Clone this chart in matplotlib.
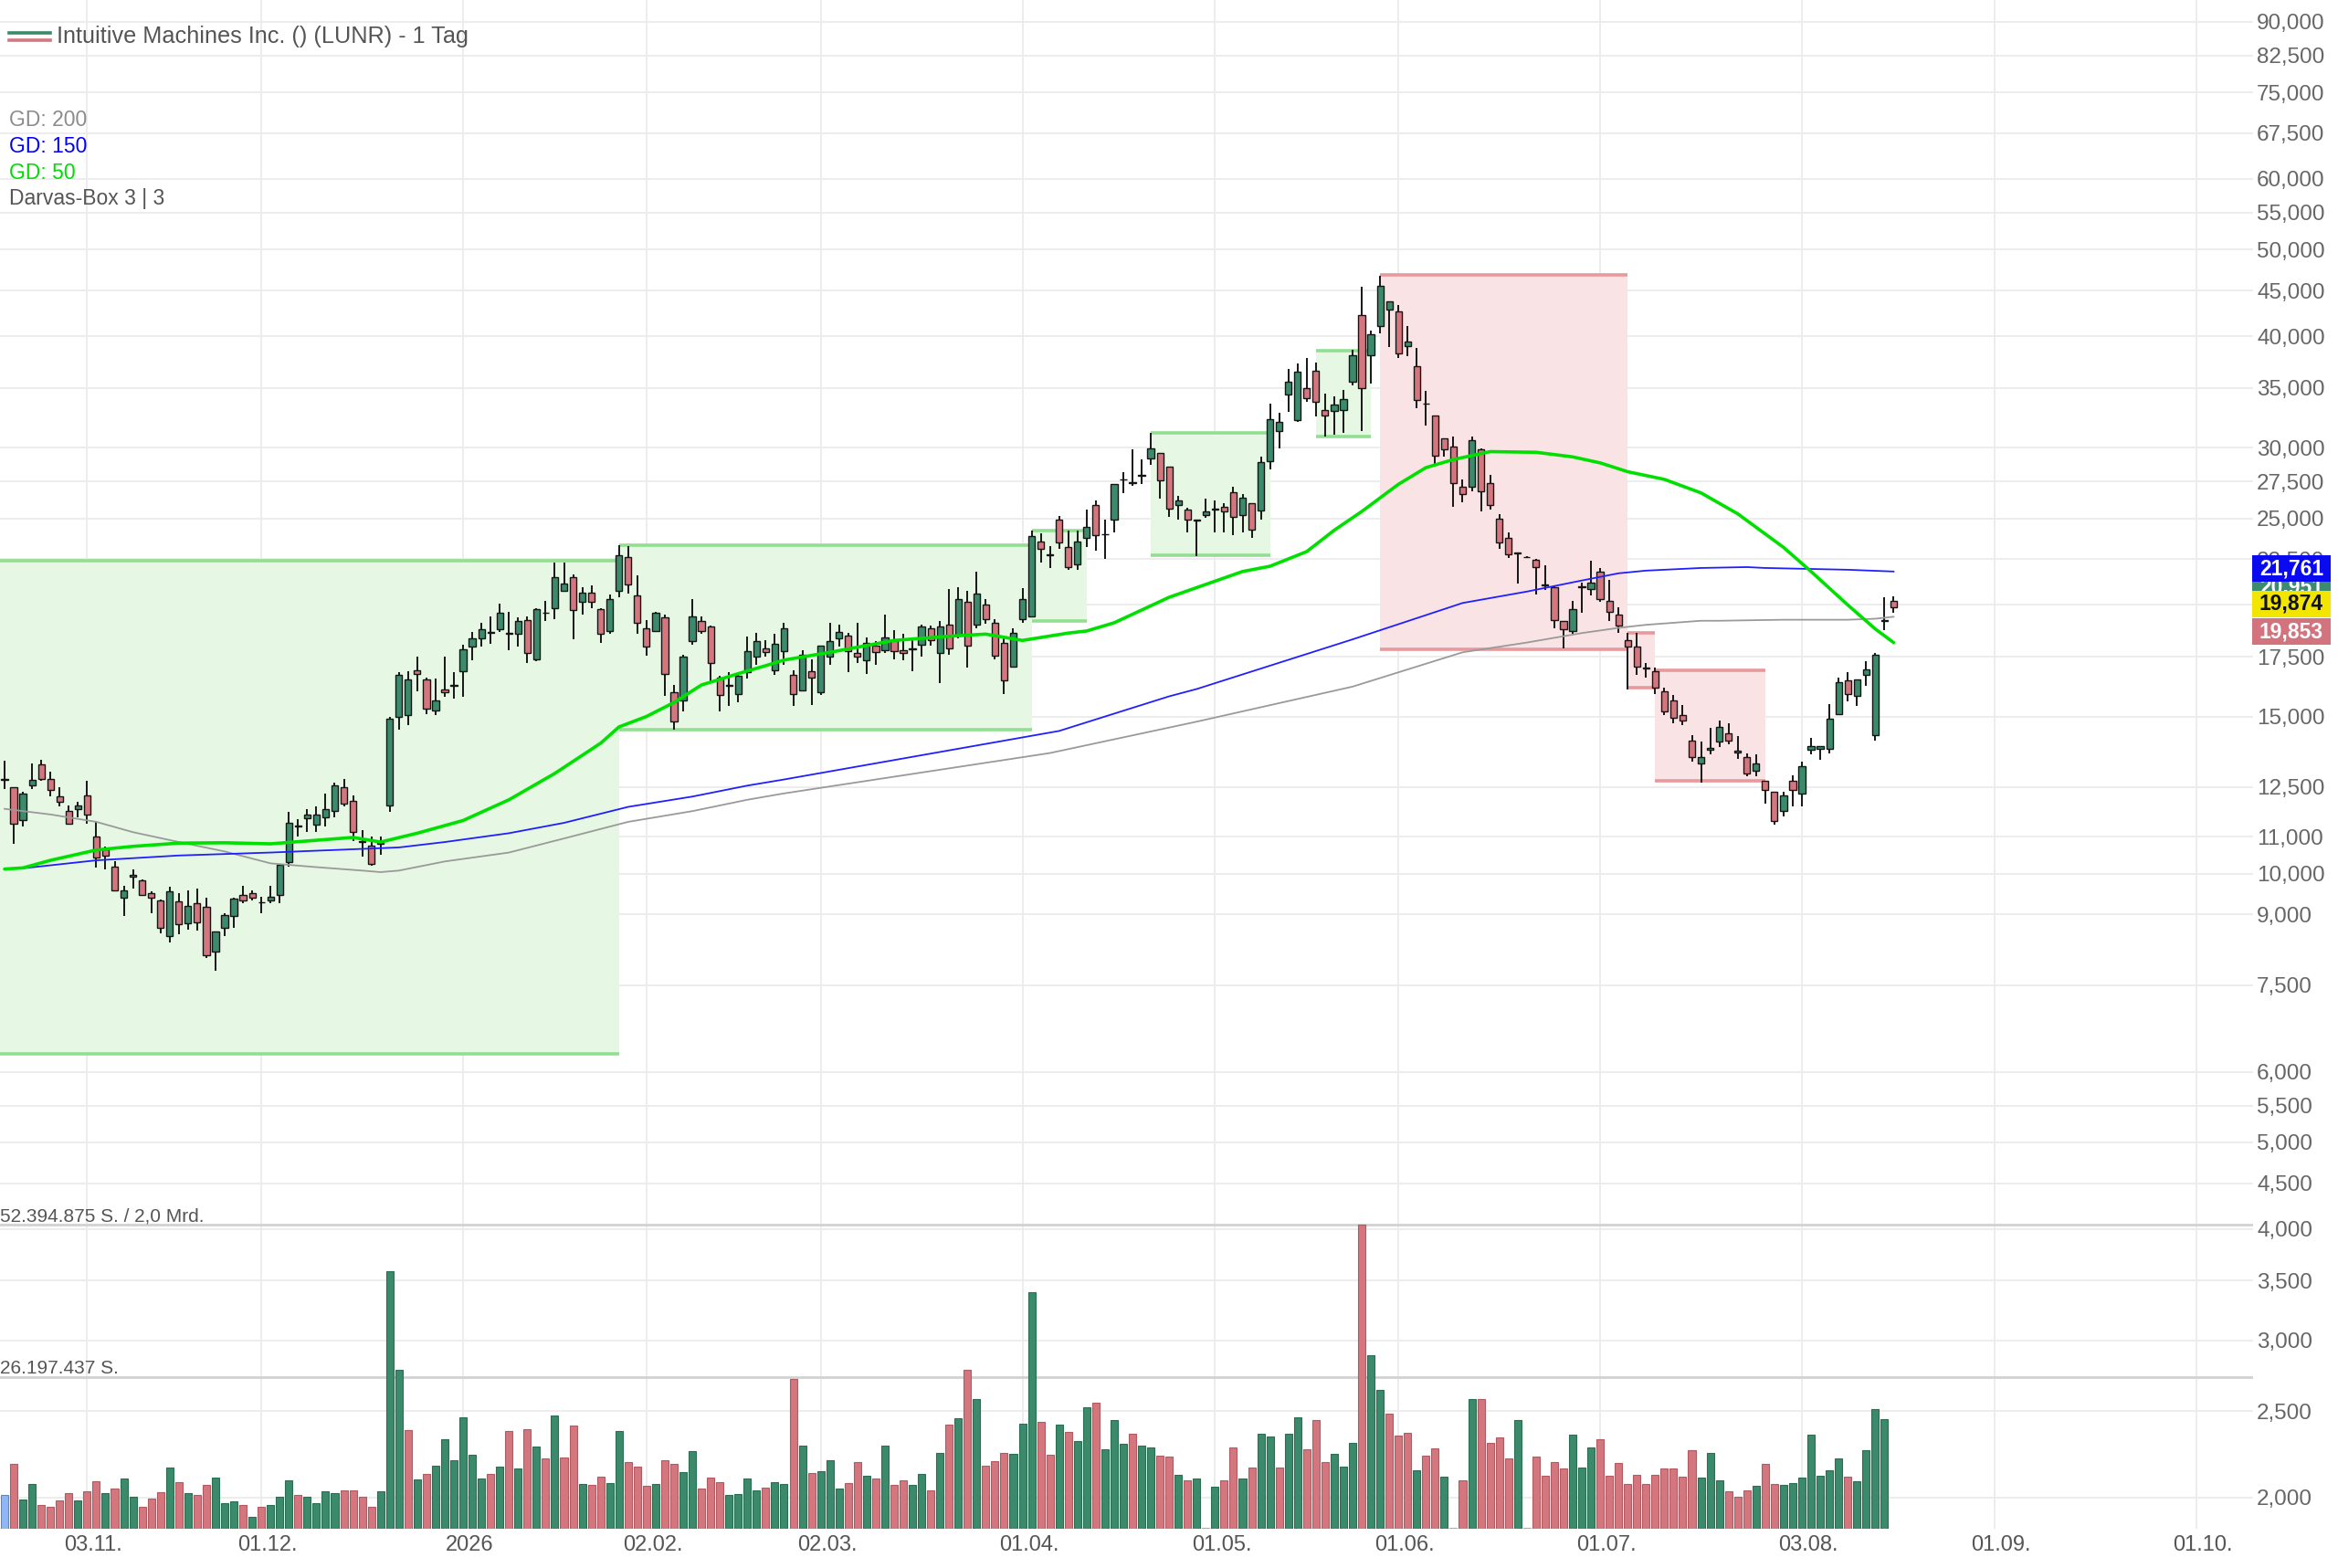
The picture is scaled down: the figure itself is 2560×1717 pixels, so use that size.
import numpy as np
import pandas as pd
import matplotlib
matplotlib.use("Agg")
import matplotlib.pyplot as plt
from matplotlib.patches import Rectangle
from matplotlib.lines import Line2D
from matplotlib.ticker import FixedLocator, FuncFormatter, NullLocator
import matplotlib.transforms as mtransforms

plt.rcParams['font.family'] = ['Liberation Sans', 'DejaVu Sans']

# ---------------- data ----------------
start_date = "2025-10-21"
holidays = ["2025-11-27", "2025-12-25", "2026-01-01", "2026-01-19",
            "2026-02-16", "2026-04-03", "2026-05-25", "2026-07-03"]

open_ = [12.75, 12.5, 11.48, 12.55, 13.27, 12.77, 12.2, 11.75, 11.82, 12.25,
         11.0, 10.65, 10.18, 9.4, 9.93, 9.82, 9.5, 9.34, 8.52, 9.3,
         8.8, 9.26, 9.17, 8.17, 8.7, 8.97, 9.47, 9.5, 9.28, 9.33,
         9.47, 10.3, 11.3, 11.55, 11.35, 11.57, 11.75, 12.5, 12.07, 10.85,
         10.76, 10.8, 11.93, 15.0, 15.05, 16.9, 16.5, 15.25, 16.1, 16.25,
         16.85, 17.95, 18.35, 18.63, 18.8, 18.58, 18.55, 19.25, 17.4, 19.58,
         19.85, 20.75, 21.5, 20.15, 20.65, 19.8, 18.7, 20.75, 22.65, 20.5,
         18.85, 18.7, 19.35, 15.95, 15.65, 18.2, 19.2, 18.9, 16.6, 16.25,
         15.9, 16.8, 17.5, 17.9, 16.9, 17.75, 16.7, 16.05, 16.85, 15.95,
         17.5, 18.35, 18.5, 17.65, 17.35, 18.0, 17.8, 18.25, 17.8, 17.83,
         18.05, 18.85, 17.65, 19.0, 18.5, 20.15, 19.0, 20.0, 19.1, 18.15,
         17.05, 19.3, 19.4, 23.55, 22.73, 24.9, 23.2, 22.2, 23.75, 25.9,
         23.98, 24.9, 27.63, 27.38, 27.93, 29.2, 29.6, 28.6, 25.9, 25.6,
         24.88, 25.2, 25.58, 25.75, 26.75, 25.2, 26.0, 25.5, 29.0, 31.3,
         34.4, 32.2, 35.0, 36.6, 33.05, 33.0, 33.05, 35.55, 42.2, 38.1,
         41.1, 42.8, 42.6, 38.95, 37.0, 33.58, 32.6, 30.7, 30.1, 27.1,
         27.1, 29.9, 27.4, 25.0, 23.75, 22.83, 22.65, 22.45, 21.03, 20.95,
         19.2, 18.7, 20.93, 20.85, 21.8, 20.2, 19.5, 18.25, 17.95, 16.98,
         16.85, 16.0, 15.65, 15.05, 14.1, 13.3, 13.78, 14.05, 14.35, 13.68,
         13.5, 13.05, 12.7, 12.35, 11.75, 12.7, 12.3, 13.75, 13.8, 13.8,
         15.1, 16.45, 15.8, 16.7, 14.3, 19.18, 20.2]

high = [13.38, 12.5, 12.35, 13.3, 13.4, 13.0, 12.5, 11.93, 12.05, 12.72,
        11.43, 10.72, 10.33, 9.7, 10.12, 9.85, 9.55, 9.36, 9.67, 9.5,
        9.58, 9.62, 9.4, 8.62, 9.04, 9.4, 9.68, 9.58, 9.42, 9.7,
        10.22, 11.72, 11.52, 11.8, 11.9, 12.3, 12.65, 12.77, 12.25, 11.18,
        11.0, 11.0, 15.0, 16.8, 16.85, 17.5, 16.6, 16.55, 17.5, 16.8,
        18.05, 18.65, 19.1, 19.4, 20.05, 19.65, 19.35, 19.4, 19.85, 20.2,
        22.3, 22.3, 21.65, 20.95, 21.05, 19.85, 20.55, 23.35, 23.25, 21.6,
        19.25, 19.65, 19.5, 16.27, 17.6, 20.3, 19.4, 18.95, 16.65, 16.8,
        16.7, 18.45, 18.6, 18.25, 18.55, 19.1, 16.9, 17.8, 17.4, 18.0,
        19.1, 19.0, 18.6, 19.1, 18.4, 18.2, 19.5, 18.75, 18.55, 18.3,
        19.0, 18.95, 19.2, 20.85, 20.95, 20.75, 21.8, 20.3, 19.3, 18.35,
        18.85, 20.9, 24.2, 24.05, 23.3, 25.15, 24.2, 24.2, 25.6, 26.2,
        24.9, 27.3, 28.2, 29.9, 29.1, 31.2, 29.6, 28.6, 26.5, 25.7,
        24.92, 26.3, 26.2, 26.0, 27.1, 26.6, 26.0, 29.3, 33.6, 32.8,
        36.8, 37.25, 37.8, 37.35, 34.5, 34.25, 34.85, 38.6, 45.4, 40.6,
        46.7, 43.75, 43.3, 41.1, 38.8, 34.7, 32.6, 30.7, 30.85, 27.65,
        30.85, 29.95, 27.95, 25.3, 24.1, 22.9, 22.7, 22.5, 22.15, 21.05,
        19.2, 20.2, 21.2, 22.4, 22.0, 21.35, 19.9, 18.6, 18.6, 17.2,
        17.0, 16.15, 15.85, 15.45, 14.3, 14.05, 14.55, 14.85, 14.75, 14.25,
        13.65, 13.6, 12.7, 12.35, 12.35, 12.9, 13.35, 14.2, 13.9, 15.5,
        16.6, 16.8, 16.5, 17.3, 17.65, 20.4, 20.45]

low = [12.45, 10.8, 11.3, 12.45, 12.7, 12.2, 11.9, 11.34, 11.57, 11.38,
       10.17, 10.1, 9.55, 8.97, 9.62, 9.45, 9.04, 8.58, 8.38, 8.55,
       8.66, 8.64, 8.04, 7.79, 8.52, 8.7, 9.26, 9.33, 9.04, 9.27,
       9.27, 10.18, 11.0, 11.13, 11.13, 11.3, 11.57, 11.9, 10.88, 10.45,
       10.2, 10.5, 11.72, 14.5, 14.67, 16.0, 15.1, 15.05, 15.77, 15.7,
       15.77, 17.35, 17.95, 18.1, 18.65, 17.8, 17.95, 17.2, 17.3, 19.2,
       19.3, 20.7, 18.3, 19.5, 19.85, 18.15, 18.55, 20.4, 20.6, 18.55,
       17.55, 18.7, 15.8, 14.5, 15.2, 18.05, 18.55, 16.4, 15.2, 15.4,
       15.55, 16.55, 17.15, 17.5, 16.7, 17.15, 15.4, 16.0, 15.45, 15.85,
       17.15, 17.95, 16.8, 17.2, 16.75, 17.15, 17.65, 17.4, 17.35, 16.85,
       17.5, 18.0, 16.35, 17.6, 18.35, 17.0, 18.85, 19.05, 17.4, 15.9,
       17.0, 19.1, 19.35, 22.3, 22.0, 23.1, 21.9, 21.9, 23.2, 23.0,
       22.5, 24.1, 26.7, 27.2, 27.3, 28.7, 26.3, 25.1, 24.9, 24.1,
       22.7, 25.05, 24.1, 24.1, 23.95, 24.1, 23.75, 24.9, 28.4, 29.95,
       32.9, 32.1, 33.75, 32.55, 30.85, 31.0, 31.2, 35.25, 31.3, 35.4,
       40.25, 38.9, 37.8, 37.95, 33.2, 31.8, 28.8, 29.3, 25.75, 26.05,
       26.8, 25.45, 25.55, 23.1, 22.6, 21.15, 22.6, 20.55, 20.8, 18.85,
       17.9, 18.55, 19.6, 20.5, 20.15, 19.2, 18.6, 16.1, 16.7, 16.6,
       15.9, 15.05, 14.75, 14.67, 13.35, 12.65, 13.6, 13.85, 13.95, 13.45,
       12.85, 12.85, 11.98, 11.35, 11.6, 11.9, 11.9, 13.6, 13.4, 13.65,
       15.05, 15.6, 15.4, 16.25, 14.1, 18.75, 19.6]

close = [12.78, 11.38, 12.3, 12.75, 12.77, 12.4, 12.05, 11.38, 11.93, 11.65,
         10.43, 10.47, 9.58, 9.58, 9.97, 9.47, 9.4, 8.7, 9.55, 8.77,
         9.2, 8.81, 8.11, 8.62, 8.98, 9.38, 9.34, 9.41, 9.29, 9.42,
         10.22, 11.4, 11.32, 11.65, 11.65, 11.8, 12.57, 11.98, 11.13, 10.87,
         10.25, 10.82, 14.9, 16.7, 16.5, 16.75, 15.3, 15.65, 15.95, 16.28,
         17.85, 18.35, 18.8, 18.67, 19.6, 18.62, 19.2, 17.65, 19.8, 19.62,
         21.5, 21.15, 19.75, 20.65, 20.15, 18.55, 20.3, 22.75, 21.1, 19.1,
         17.95, 19.6, 16.75, 14.8, 17.5, 19.4, 18.7, 17.2, 15.85, 16.29,
         16.65, 17.75, 18.2, 17.7, 18.1, 18.85, 15.9, 17.6, 16.6, 18.0,
         18.2, 18.65, 17.75, 17.5, 18.15, 17.7, 18.4, 17.75, 17.65, 17.87,
         18.9, 18.25, 18.9, 17.9, 20.3, 18.0, 20.6, 19.3, 17.55, 16.45,
         18.6, 20.3, 23.9, 23.1, 22.77, 23.5, 22.05, 23.55, 24.45, 23.95,
         24.02, 27.3, 27.67, 27.42, 27.97, 29.95, 27.6, 25.65, 26.2, 24.9,
         24.9, 25.45, 25.62, 25.45, 25.1, 26.35, 24.3, 28.9, 32.3, 32.1,
         35.6, 36.5, 34.1, 33.75, 32.6, 33.5, 34.0, 38.1, 35.0, 40.2,
         45.6, 43.75, 38.3, 39.45, 33.9, 33.62, 29.4, 29.9, 27.4, 26.6,
         30.6, 26.8, 25.85, 23.5, 22.8, 22.87, 22.65, 22.05, 21.07, 19.25,
         18.8, 19.8, 20.97, 21.2, 20.3, 19.65, 18.95, 17.95, 17.05, 17.02,
         16.15, 15.2, 14.95, 14.85, 13.5, 13.5, 13.82, 14.6, 14.1, 13.72,
         12.95, 13.3, 12.4, 11.45, 12.25, 12.4, 13.2, 13.9, 13.9, 14.9,
         16.4, 15.9, 16.5, 16.95, 17.6, 19.22, 19.87]

# volume in millions of shares (last session has no bar yet)
volume_m = [5.77, 11.13, 4.99, 7.72, 4.10, 3.78, 4.88, 6.19, 4.88, 6.46,
            8.24, 6.19, 6.93, 8.66, 5.51, 3.83, 5.25, 6.30, 10.50, 7.98,
            6.19, 5.77, 7.61, 8.82, 4.36, 4.72, 4.10, 2.10, 3.78, 4.10,
            5.51, 8.40, 5.88, 5.51, 4.46, 6.40, 6.19, 6.56, 6.56, 5.51,
            3.83, 6.40, 44.36, 27.30, 17.06, 8.50, 9.45, 10.92, 15.49, 11.81,
            19.16, 12.76, 8.66, 9.45, 10.76, 16.80, 10.39, 17.22, 14.17, 12.07,
            19.58, 12.34, 17.74, 7.77, 7.61, 8.92, 7.87, 16.80, 11.44, 10.76,
            7.45, 7.77, 11.81, 11.13, 9.71, 13.39, 6.93, 8.82, 8.03, 5.88,
            6.04, 8.66, 6.56, 7.09, 8.03, 7.77, 25.88, 14.33, 9.55, 9.97,
            11.81, 6.98, 7.87, 11.44, 9.19, 8.66, 14.33, 7.61, 8.29, 7.51,
            9.45, 6.56, 13.12, 17.95, 19.00, 27.30, 22.31, 10.92, 11.65, 13.12,
            12.86, 18.11, 40.79, 18.37, 12.70, 17.95, 16.69, 15.12, 20.89, 21.79,
            13.65, 18.79, 14.59, 16.38, 14.33, 14.07, 12.60, 12.44, 9.34, 8.40,
            8.66, 0.15, 7.24, 8.40, 14.02, 8.66, 10.50, 16.43, 15.91, 10.60,
            16.43, 19.27, 13.65, 18.79, 11.44, 12.86, 10.66, 14.80, 52.394875, 29.82,
            23.89, 19.84, 16.01, 16.54, 10.08, 12.60, 13.91, 9.03, 0.15, 8.29,
            22.41, 22.31, 14.80, 15.75, 12.07, 18.74, 0.15, 12.49, 9.08, 11.44,
            10.39, 16.27, 10.60, 14.02, 15.38, 9.19, 11.29, 7.72, 9.29, 7.77,
            9.29, 10.34, 10.39, 9.03, 13.49, 8.82, 13.12, 8.29, 6.40, 5.51,
            6.67, 7.45, 11.18, 7.77, 7.61, 7.87, 8.82, 16.27, 9.19, 10.08,
            12.07, 9.03, 8.14, 13.49, 20.58, 18.90]
# g = up vs previous close, r = down, n = unchanged/none, b = first bar
vol_dir = ("b" + "rggrrrrgrr" + "grggrrrgrg" + "rrgggrgrgg" + "grggggrrrr"
           + "gggrgrgggg" + "ggrgrgrgrg" + "rrgrrggrrr" + "grrggrrrgg"
           + "ggrggrgrgg" + "grrgrgrrgg" + "rgrgrgrrrg" + "ggrrgrggrg"
           + "ggrggrrgrg" + "ngrrgrggrg" + "grrrgggrgg" + "rrrgrrgnrg"
           + "rrrrgnrrrr" + "gggrrrrrrr" + "rrrrgggrrr" + "grrggggggg"
           + "rgggg")

# moving averages read at sample sessions (session number, value)
ma200_days = [0, 5, 10, 14, 19, 24, 29, 34, 39, 41, 43, 48, 55, 61, 68, 75, 81, 85,
              114, 130, 147, 159, 166, 172, 176, 179, 185, 187, 194, 201, 204, 206]
ma200_vals = [11.82, 11.65, 11.43, 11.13, 10.85, 10.59, 10.27, 10.17, 10.08, 10.04,
              10.08, 10.32, 10.56, 10.95, 11.43, 11.75, 12.10, 12.30, 13.65, 14.80,
              16.20, 17.70, 18.15, 18.60, 18.85, 19.00, 19.20, 19.20, 19.25, 19.25,
              19.30, 19.40]
ma150_days = [0, 2, 10, 19, 29, 36, 43, 48, 55, 61, 68, 75, 81, 85, 115, 127, 130,
              147, 159, 166, 172, 176, 179, 185, 190, 192, 201, 206]
ma150_vals = [10.12, 10.14, 10.35, 10.48, 10.56, 10.63, 10.70, 10.85, 11.10, 11.40,
              11.88, 12.20, 12.55, 12.75, 14.45, 15.80, 16.10, 18.30, 20.10, 20.70,
              21.30, 21.70, 21.85, 22.00, 22.05, 22.00, 21.90, 21.80]
ma50_days = [0, 2, 5, 10, 14, 19, 24, 29, 34, 38, 41, 45, 50, 55, 60, 65, 67, 70,
             73, 76, 80, 83, 85, 90, 97, 103, 107, 111, 116, 118, 121, 127, 135,
             138, 142, 145, 148, 152, 155, 158, 162, 167, 171, 174, 177, 181, 185,
             189, 194, 197, 201, 204, 206]
ma50_vals = [10.12, 10.15, 10.35, 10.63, 10.73, 10.82, 10.83, 10.80, 10.90, 10.98,
             10.85, 11.10, 11.47, 12.10, 12.95, 14.00, 14.60, 15.00, 15.55, 16.27,
             16.75, 17.10, 17.35, 17.70, 18.25, 18.45, 18.55, 18.25, 18.60, 18.70,
             19.10, 20.40, 21.80, 22.10, 22.95, 24.25, 25.45, 27.30, 28.50, 29.10,
             29.70, 29.65, 29.30, 28.85, 28.20, 27.65, 26.70, 25.30, 23.20, 21.80,
             20.00, 18.80, 18.15]

# Darvas boxes: (first session, last session, bottom, top)
green_boxes = [(-1, 67, 6.28, 22.4), (67, 112, 14.5, 23.35), (112, 118, 19.2, 24.25),
               (125, 138, 22.75, 31.2), (143, 149, 30.85, 38.5)]
red_boxes = [(150, 177, 17.85, 46.9), (177, 180, 16.17, 18.6), (180, 192, 12.7, 16.9)]

price_ticks = [90, 82.5, 75, 67.5, 60, 55, 50, 45, 40, 35, 30, 27.5, 25, 22.5, 20,
               17.5, 15, 12.5, 11, 10, 9, 7.5, 6, 5.5, 5, 4.5, 4, 3.5, 3, 2.5, 2]
tick_dates = ["2025-11-03", "2025-12-01", "2026-01-02", "2026-02-02", "2026-03-02",
              "2026-04-01", "2026-05-01", "2026-06-01", "2026-07-01", "2026-08-03",
              "2026-09-01", "2026-10-01"]
tick_labels = ["03.11.", "01.12.", "2026", "02.02.", "02.03.", "01.04.", "01.05.",
               "01.06.", "01.07.", "03.08.", "01.09.", "01.10."]

# price-scale markers: text, value, background, text colour, stacking shift (px)
value_labels = [("20,951", 20.951, "#3d8b6e", "white", 0),
                ("21,761", 21.761, "#0a0af0", "white", 4),
                ("19,874", 19.874, "#f2e600", "#111111", 4),
                ("19,853", 19.853, "#d2737d", "white", -26)]

title = "Intuitive Machines Inc. () (LUNR) - 1 Tag"

# ---------------- styling ----------------
UP = "#3a8a6b"
DOWN = "#d4767e"
W, H = 2560, 1717
fig = plt.figure(figsize=(W / 100, H / 100), dpi=100)
fig.patch.set_facecolor("white")
ax_rect = [0, 43 / H, 2467 / W, 1 - 43 / H]
ax = fig.add_axes(ax_rect)
ax.set_facecolor("white")
for s in ax.spines.values():
    s.set_visible(False)

cal = pd.bdate_range(start=start_date, periods=300, freq="C", holidays=holidays)
day_index = {d.strftime("%Y-%m-%d"): i for i, d in enumerate(cal)}
tick_pos = [day_index[d] for d in tick_dates]

o = np.array(open_); h = np.array(high); l = np.array(low); c = np.array(close)
x = np.arange(len(o))

ax.set_yscale("log")
ax.set_xlim(-0.5, 245.2)
ax.set_ylim(1.846, 95.2)

ax.yaxis.set_major_locator(FixedLocator(price_ticks))
ax.yaxis.set_minor_locator(NullLocator())
ax.yaxis.set_major_formatter(FuncFormatter(lambda v, p: f"{v:.3f}".replace(".", ",")))
ax.yaxis.tick_right()
ax.tick_params(axis="y", length=0, pad=3, labelsize=17.5, labelcolor="#666666")
ax.xaxis.set_major_locator(FixedLocator(tick_pos))
ax.xaxis.set_minor_locator(NullLocator())
ax.set_xticklabels(tick_labels)
ax.tick_params(axis="x", length=0, pad=5, labelsize=17, labelcolor="#555555")
for lab in ax.get_xticklabels():
    lab.set_transform(lab.get_transform() + mtransforms.ScaledTranslation(0.07, 0, fig.dpi_scale_trans))
ax.grid(True, which="major", color="#ececec", linewidth=1.3, zorder=0)
ax.set_axisbelow(True)

# Darvas boxes
for (x0, x1, b, t) in green_boxes:
    ax.add_patch(Rectangle((x0, b), x1 - x0, t - b, facecolor="#e6f7e4", edgecolor="none", zorder=1))
    ax.hlines([b, t], x0, x1, colors="#92df92", linewidth=2.6, zorder=1.5)
for (x0, x1, b, t) in red_boxes:
    ax.add_patch(Rectangle((x0, b), x1 - x0, t - b, facecolor="#fae3e4", edgecolor="none", zorder=1))
    ax.hlines([b, t], x0, x1, colors="#e8999b", linewidth=2.6, zorder=1.5)

# candles
body_col = np.where(c >= o, UP, DOWN)
ax.vlines(x, l, h, colors="#151515", linewidth=1.4, zorder=3)
ax.bar(x, np.abs(c - o), bottom=np.minimum(o, c), width=0.72, color=body_col,
       edgecolor="#151515", linewidth=1.0, zorder=3.5)

# moving averages
ax.plot(ma200_days, ma200_vals, color="#9a9a9a", linewidth=1.3, zorder=4)
ax.plot(ma150_days, ma150_vals, color="#1f1fff", linewidth=1.3, zorder=4)
ax.plot(ma50_days, ma50_vals, color="#00e000", linewidth=2.6, zorder=4.5,
        solid_capstyle="round", solid_joinstyle="round")

# volume pane
pane_frac = 333 / 1674
ax_v = fig.add_axes(ax_rect, sharex=ax)
ax_v.set_facecolor("none")
ax_v.axis("off")
vol = np.array(volume_m)
vmax = vol.max()
ax_v.set_ylim(0, vmax / pane_frac)
col_map = {"g": (UP, "#2a6e54"), "r": (DOWN, "#b25a62"), "n": ("#c8c8c8", "#aaaaaa"),
           "b": ("#8fb6f5", "#5b86d6")}
vx = np.arange(len(vol))
ax_v.bar(vx, vol, width=0.8, color=[col_map[d][0] for d in vol_dir],
         edgecolor=[col_map[d][1] for d in vol_dir], linewidth=0.8, zorder=3)
for lvl in (vmax, vmax / 2):
    ax_v.axhline(lvl, color="#d2d2d2", linewidth=2.0, zorder=2)
ax_v.text(0.0, vmax, f"{int(round(vmax * 1e6)):,}".replace(",", ".") + " S. / 2,0 Mrd.",
          transform=mtransforms.blended_transform_factory(ax_v.transAxes, ax_v.transData),
          ha="left", va="bottom", fontsize=15, color="#555555")
ax_v.text(0.0, vmax / 2, f"{int(vmax * 1e6 / 2):,}".replace(",", ".") + " S.",
          transform=mtransforms.blended_transform_factory(ax_v.transAxes, ax_v.transData),
          ha="left", va="bottom", fontsize=15, color="#555555")

# value labels on the price scale (drawn in order, later ones on top)
ident = mtransforms.IdentityTransform()
for k, (txt, val, bg, fg, dy) in enumerate(value_labels):
    yd = ax.transData.transform((0, val))[1] + dy
    fig.add_artist(Rectangle((2466, yd - 14.5), 86, 29, transform=ident,
                             facecolor=bg, edgecolor="none", zorder=5 + k))
    fig.text(2509, yd, txt, transform=ident, ha="center", va="center",
             fontsize=16.5, fontweight="bold", color=fg, zorder=5.5 + k)

# legend / header
fig.add_artist(Line2D([10, 55], [H - 36, H - 36], transform=ident, color=UP, linewidth=2.6))
fig.add_artist(Line2D([10, 55], [H - 44, H - 44], transform=ident, color=DOWN, linewidth=2.6))
fig.text(62, H - 40, title, transform=ident, ha="left", va="center", fontsize=18.2, color="#555555")
for txt, yy, colr in [("GD: 200", 131, "#8c8c8c"), ("GD: 150", 160, "#0000ff"),
                      ("GD: 50", 189, "#00dd00"), ("Darvas-Box 3 | 3", 217, "#555555")]:
    fig.text(10, H - yy, txt, transform=ident, ha="left", va="center", fontsize=16.5, color=colr)

fig.savefig("out.png", dpi=100)
